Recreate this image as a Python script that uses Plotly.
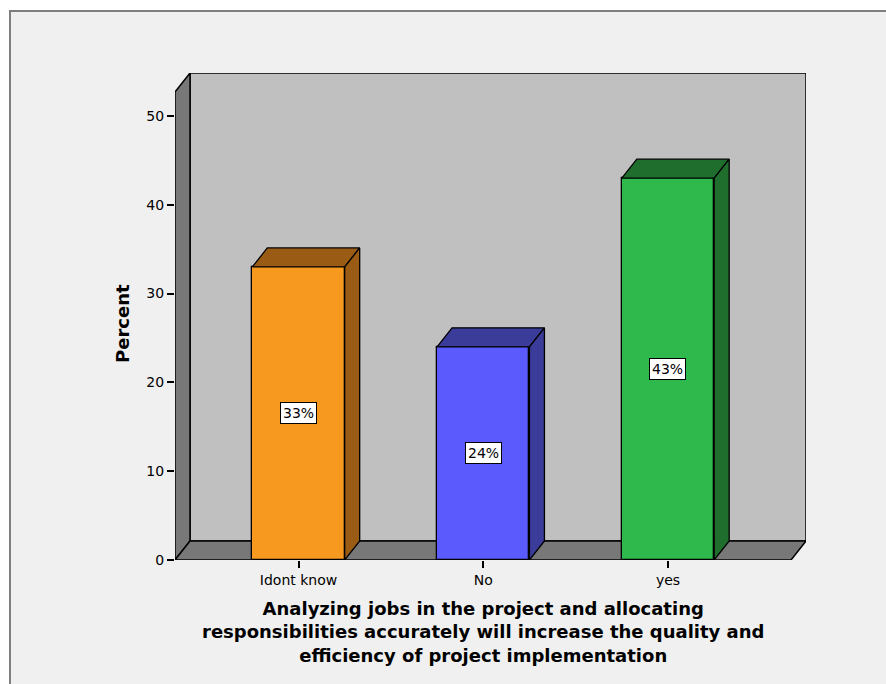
import plotly.graph_objects as go

# Survey responses (percent of respondents)
categories = ["Idont know", "No", "yes"]
percents = [33, 24, 43]
front_colors = ["#f7981f", "#5b5bfd", "#2fb84b"]
shade_colors = ["#9a5b14", "#3b3b99", "#1f6e2e"]
y_ticks = [0, 10, 20, 30, 40, 50]

W, H = 886, 684
plot_left, plot_right, plot_top, plot_bottom = 175, 806, 73, 560

# axis extents (front plane of the 3D box)
x_min, x_max = -0.6685, 2.747
y_min, y_max = 0.0, 54.84
px_per_x = (plot_right - plot_left) / (x_max - x_min)
px_per_y = (plot_bottom - plot_top) / (y_max - y_min)

# depth of the pseudo-3D extrusion, in pixels, converted to axis units
depth_dx = 15 / px_per_x
depth_dy = 19 / px_per_y
bar_w = 0.5

xs = list(range(len(categories)))

fig = go.Figure()

# front faces of the bars
fig.add_trace(go.Bar(
    x=xs, y=percents, width=bar_w,
    marker=dict(color=front_colors, line=dict(color="black", width=1.3)),
    hoverinfo="skip", showlegend=False,
))

# top and right faces of each bar
for xi, v, shade in zip(xs, percents, shade_colors):
    left, right = xi - bar_w / 2, xi + bar_w / 2
    top_x = [left, left + depth_dx, right + depth_dx, right, left]
    top_y = [v, v + depth_dy, v + depth_dy, v, v]
    side_x = [right, right + depth_dx, right + depth_dx, right, right]
    side_y = [0, depth_dy, v + depth_dy, v, 0]
    for fx, fy in ((top_x, top_y), (side_x, side_y)):
        fig.add_trace(go.Scatter(
            x=fx, y=fy, mode="lines", fill="toself", fillcolor=shade,
            line=dict(color="black", width=1.3), hoverinfo="skip",
            showlegend=False,
        ))

def px_to_paper_x(px):
    return (px - plot_left) / (plot_right - plot_left)

def px_to_paper_y(py):
    return (plot_bottom - py) / (plot_bottom - plot_top)

shapes = [
    # chart frame
    dict(type="rect", xref="paper", yref="paper", layer="below",
         x0=px_to_paper_x(10), x1=px_to_paper_x(W + 10),
         y0=px_to_paper_y(H + 10), y1=px_to_paper_y(11),
         fillcolor="#f0f0f0", line=dict(color="#7f7f7f", width=2)),
    # back wall
    dict(type="rect", xref="x", yref="y", layer="below",
         x0=x_min + depth_dx, x1=x_max, y0=depth_dy, y1=y_max,
         fillcolor="#c0c0c0", line=dict(color="black", width=1.5)),
    # left wall
    dict(type="path", xref="x", yref="y", layer="below",
         path=(f"M {x_min},{y_min} L {x_min},{y_max - depth_dy} "
               f"L {x_min + depth_dx},{y_max} L {x_min + depth_dx},{depth_dy} Z"),
         fillcolor="#787878", line=dict(color="black", width=1.5)),
    # floor
    dict(type="path", xref="x", yref="y", layer="below",
         path=(f"M {x_min},{y_min} L {x_min + depth_dx},{depth_dy} "
               f"L {x_max},{depth_dy} L {x_max - depth_dx},{y_min} Z"),
         fillcolor="#787878", line=dict(color="black", width=1.5)),
]

annotations = [
    dict(x=xi, y=v / 2, xref="x", yref="y", text=f"{v}%", showarrow=False,
         font=dict(family="DejaVu Sans", size=14, color="black"),
         bgcolor="white", bordercolor="black", borderwidth=1, borderpad=2)
    for xi, v in zip(xs, percents)
]
annotations.append(dict(
    x=px_to_paper_x(122), y=px_to_paper_y(324), xref="paper", yref="paper",
    xanchor="center", yanchor="middle",
    text="Percent", textangle=-90, showarrow=False,
    font=dict(family="DejaVu Sans", size=18, color="black", weight="bold"),
))
annotations.append(dict(
    x=px_to_paper_x(483), y=px_to_paper_y(632), xref="paper", yref="paper",
    text=("Analyzing jobs in the project and allocating<br>"
          "responsibilities accurately will increase the quality and<br>"
          "efficiency of project implementation"),
    showarrow=False, align="center", xanchor="center", yanchor="middle",
    font=dict(family="DejaVu Sans", size=18, color="black", weight="bold"),
))

fig.update_layout(
    width=W, height=H,
    margin=dict(l=plot_left, r=W - plot_right, t=plot_top, b=H - plot_bottom),
    paper_bgcolor="white", plot_bgcolor="rgba(0,0,0,0)",
    shapes=shapes, annotations=annotations, bargap=0,
    xaxis=dict(range=[x_min, x_max], tickvals=xs, ticktext=categories,
               ticks="outside", ticklen=7, tickwidth=1.5, tickcolor="black",
               showgrid=False, zeroline=False, showline=False,
               tickfont=dict(family="DejaVu Sans", size=14, color="black")),
    yaxis=dict(range=[y_min, y_max], tickvals=y_ticks,
               ticks="outside", ticklen=7, tickwidth=1.5, tickcolor="black",
               showgrid=False, zeroline=False, showline=False,
               tickfont=dict(family="DejaVu Sans", size=14, color="black")),
)

fig.write_html("out.html")
